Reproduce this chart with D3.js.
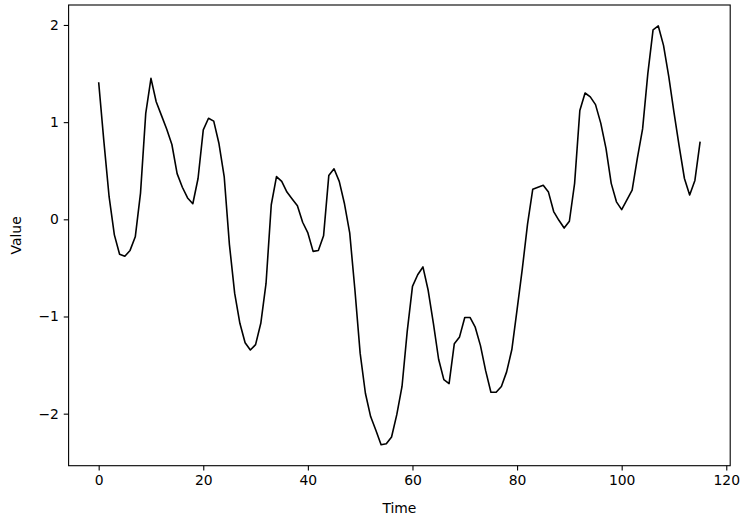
<!DOCTYPE html>
<html>
<head>
<meta charset="utf-8">
<script src="https://cdn.jsdelivr.net/npm/d3@7"></script>
<style>
  html, body { margin: 0; padding: 0; background: #ffffff; }
  svg { display: block; }
  text { font-family: "DejaVu Sans", sans-serif; fill: #000; }
</style>
</head>
<body>
<svg id="chart" width="745" height="520"></svg>
<script>
// ---- data ----
const time = d3.range(0, 116);
const values = [
  1.41, 0.80, 0.23, -0.16, -0.36, -0.38, -0.32, -0.18, 0.27, 1.09,
  1.45, 1.21, 1.07, 0.93, 0.77, 0.47, 0.33, 0.22, 0.16, 0.42,
  0.92, 1.04, 1.01, 0.78, 0.44, -0.26, -0.76, -1.07, -1.27, -1.345,
  -1.29, -1.07, -0.66, 0.15, 0.44, 0.39, 0.28, 0.21, 0.14, -0.03,
  -0.14, -0.33, -0.32, -0.17, 0.45, 0.52, 0.39, 0.16, -0.14, -0.73,
  -1.38, -1.79, -2.03, -2.17, -2.32, -2.31, -2.24, -2.01, -1.72, -1.15,
  -0.69, -0.57, -0.49, -0.73, -1.07, -1.44, -1.65, -1.69, -1.28, -1.21,
  -1.01, -1.01, -1.11, -1.30, -1.56, -1.78, -1.78, -1.72, -1.57, -1.34,
  -0.93, -0.51, -0.05, 0.31, 0.33, 0.35, 0.28, 0.08, -0.01, -0.09,
  -0.02, 0.37, 1.12, 1.30, 1.26, 1.18, 0.99, 0.73, 0.37, 0.18,
  0.10, 0.20, 0.30, 0.63, 0.93, 1.50, 1.95, 1.99, 1.79, 1.47,
  1.10, 0.75, 0.42, 0.25, 0.40, 0.80
];
const xTicks = [0, 20, 40, 60, 80, 100, 120];
const yTicks = [-2, -1, 0, 1, 2];
const xLabel = "Time";
const yLabel = "Value";

// ---- layout ----
const W = 745, H = 520;
const plot = { left: 68.6, right: 730.2, top: 5, bottom: 465.7 };
const fontPx = 13.9;
const tickLen = 4.86;

const svg = d3.select("#chart");

// matplotlib-like 5% margins
const xMin = d3.min(time), xMax = d3.max(time);
const xPad = (xMax - xMin) * 0.05;
const yMin = d3.min(values), yMax = d3.max(values);
const yPad = (yMax - yMin) * 0.05;

const x = d3.scaleLinear().domain([xMin - xPad, xMax + xPad]).range([plot.left, plot.right]);
const y = d3.scaleLinear().domain([yMin - yPad, yMax + yPad]).range([plot.bottom, plot.top]);

// line
const line = d3.line().x((d, i) => x(time[i])).y(d => y(d));
svg.append("path")
  .datum(values)
  .attr("fill", "none")
  .attr("stroke", "#000")
  .attr("stroke-width", 1.6)
  .attr("stroke-linejoin", "round")
  .attr("d", line);

// axes
const xAxis = svg.append("g")
  .attr("transform", `translate(0,${plot.bottom})`)
  .call(d3.axisBottom(x).tickValues(xTicks).tickFormat(d3.format("d"))
    .tickSize(tickLen).tickPadding(4.86).tickSizeOuter(0));
const yAxis = svg.append("g")
  .attr("transform", `translate(${plot.left},0)`)
  .call(d3.axisLeft(y).tickValues(yTicks).tickFormat(d3.format("d"))
    .tickSize(tickLen).tickPadding(4.86).tickSizeOuter(0));

[xAxis, yAxis].forEach(g => {
  g.select(".domain").remove();
  g.selectAll(".tick line").attr("stroke", "#000").attr("stroke-width", 1.1);
  g.selectAll(".tick text")
    .style("font-family", '"DejaVu Sans", sans-serif')
    .style("font-size", fontPx + "px")
    .attr("fill", "#000");
});

// frame
svg.append("rect")
  .attr("x", plot.left).attr("y", plot.top)
  .attr("width", plot.right - plot.left)
  .attr("height", plot.bottom - plot.top)
  .attr("fill", "none")
  .attr("stroke", "#000")
  .attr("stroke-width", 1.1);

// axis labels
svg.append("text")
  .attr("x", (plot.left + plot.right) / 2)
  .attr("y", 513)
  .attr("text-anchor", "middle")
  .style("font-size", fontPx + "px")
  .text(xLabel);

svg.append("text")
  .attr("transform", `translate(21,${(plot.top + plot.bottom) / 2}) rotate(-90)`)
  .attr("text-anchor", "middle")
  .style("font-size", fontPx + "px")
  .text(yLabel);
</script>
</body>
</html>
